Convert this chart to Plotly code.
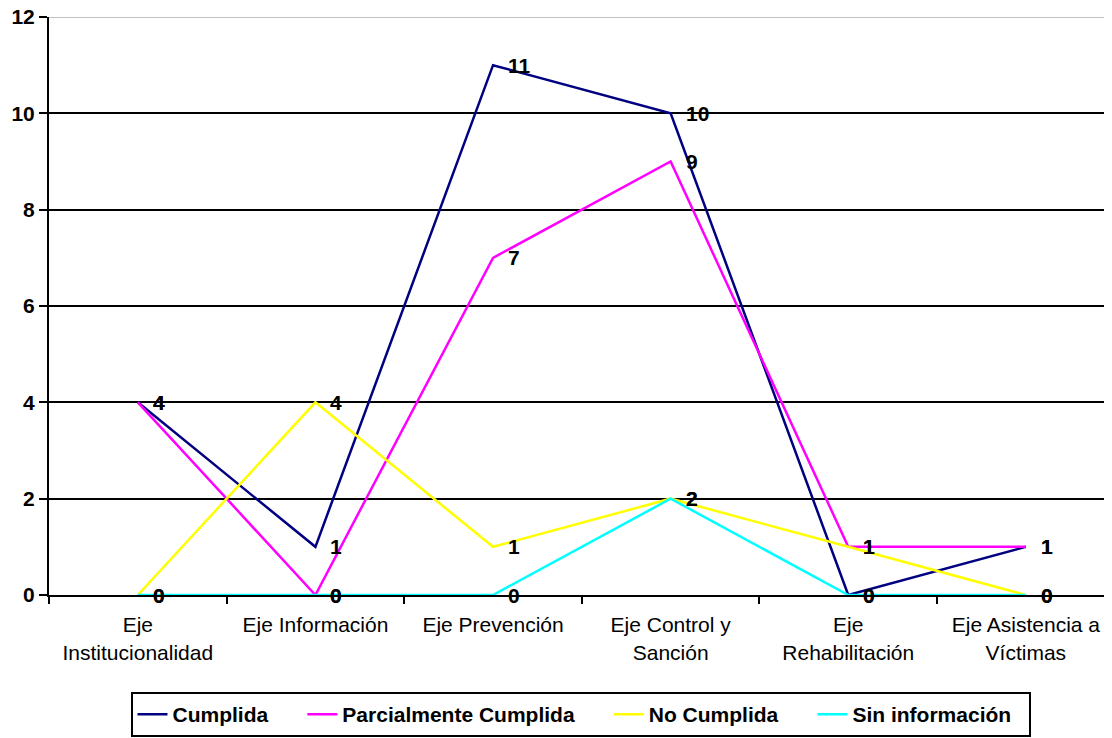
import plotly.graph_objects as go

categories = ["Eje<br>Institucionalidad", "Eje Información", "Eje Prevención",
              "Eje Control y<br>Sanción", "Eje<br>Rehabilitación", "Eje Asistencia a<br>Víctimas"]
cumplida = [4, 1, 11, 10, 0, 1]
parcial = [4, 0, 7, 9, 1, 1]
no_cumplida = [0, 4, 1, 2, 1, 0]
sin_info = [0, 0, 0, 2, 0, 0]
y_ticks = [0, 2, 4, 6, 8, 10, 12]

series = [
    ("Cumplida", cumplida, "#000080"),
    ("Parcialmente Cumplida", parcial, "#FF00FF"),
    ("No Cumplida", no_cumplida, "#FFFF00"),
    ("Sin información", sin_info, "#00FFFF"),
]
legend_pad = [5, 5, 5, 2]

FONT = "Liberation Sans, Arial, sans-serif"
fig = go.Figure()
for (name, vals, color), pad in zip(series, legend_pad):
    fig.add_trace(go.Scatter(x=categories, y=vals, name=name + "\u00a0" * pad, mode="lines",
                             line=dict(color=color, width=2.5), cliponaxis=False))

for name, vals, color in series:
    for c, v in zip(categories, vals):
        fig.add_annotation(x=c, y=v, text=str(v), showarrow=False,
                           xanchor="left", yanchor="middle", xshift=13,
                           font=dict(family=FONT, size=21, color="black", weight="bold"))

fig.add_shape(type="line", xref="paper", yref="y", x0=0, x1=1, y0=12, y1=12,
              line=dict(color="#c0c0c0", width=2), layer="above")

fig.update_layout(
    width=1104, height=730,
    margin=dict(l=41, r=0, t=9, b=143, autoexpand=False),
    paper_bgcolor="white", plot_bgcolor="white",
    font=dict(family=FONT, size=21, color="black"),
    showlegend=True,
    legend=dict(orientation="h", x=0.5, xanchor="center", y=-0.1678, yanchor="top",
                bordercolor="black", borderwidth=2, bgcolor="white",
                font=dict(family=FONT, size=21, color="black", weight="bold")),
    xaxis=dict(type="category", range=[-0.5, 5.485], tickangle=0, automargin=False,
               showline=True, linecolor="black", linewidth=2, ticklabelstandoff=10,
               ticks="outside", tickson="boundaries", ticklen=7, tickwidth=1.5, tickcolor="black",
               showgrid=False, tickfont=dict(family=FONT, size=21, color="black")),
    yaxis=dict(range=[0, 12], tickvals=y_ticks, showline=True, linecolor="black", linewidth=2,
               ticks="outside", ticklen=8, tickwidth=2, tickcolor="black", automargin=False,
               ticklabeloverflow="allow",
               showgrid=True, gridcolor="black", gridwidth=2, zeroline=False,
               tickfont=dict(family=FONT, size=21, color="black", weight="bold")),
)

fig.write_html("out.html")
